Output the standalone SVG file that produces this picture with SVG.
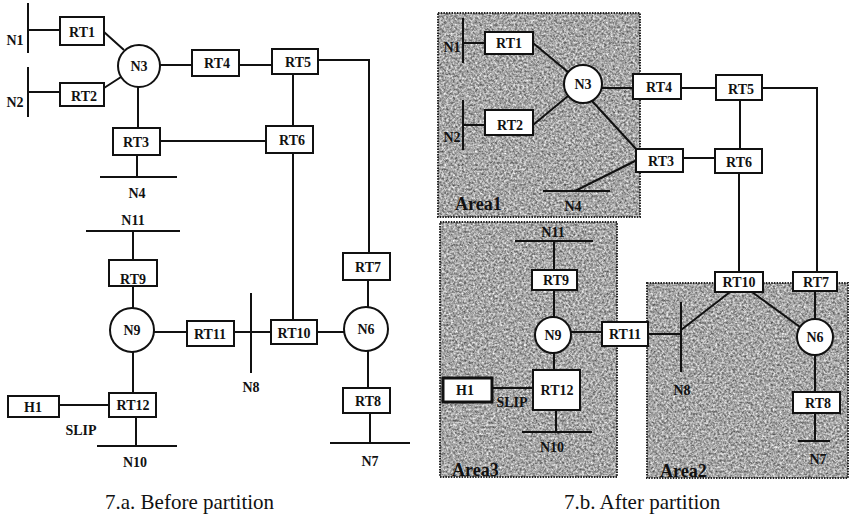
<svg xmlns="http://www.w3.org/2000/svg" width="854" height="518" viewBox="0 0 854 518">
<defs>
<filter id="tex" x="0" y="0" width="1" height="1" color-interpolation-filters="sRGB">
<feTurbulence type="fractalNoise" baseFrequency="0.45" numOctaves="4" seed="7"/>
<feColorMatrix type="matrix" values="0.9 0 0 0 0.2  0.9 0 0 0 0.2  0.9 0 0 0 0.2  0 0 0 0 1"/>
</filter>
<style>
.box{fill:#fff;stroke:#111;stroke-width:2}
.ln{stroke:#111;stroke-width:2;fill:none}
.lbl{font-family:"Liberation Serif","Times New Roman",serif;font-weight:bold;font-size:14px;text-anchor:middle;fill:#111}
.alb{font-family:"Liberation Serif","Times New Roman",serif;font-weight:bold;font-size:18px;fill:#111}
.cap{font-family:"Liberation Serif","Times New Roman",serif;font-size:21px;fill:#111}
.abd{fill:none;stroke:#222;stroke-width:2;stroke-dasharray:1.5 1.2}
</style>
</defs>
<rect width="854" height="518" fill="#fff"/>

<!-- Areas (7.b) -->
<g id="b-Area1"><rect x="438" y="13" width="202" height="204" fill="#000" filter="url(#tex)"/><rect class="abd" x="438" y="13" width="202" height="204"/><text class="alb" x="455" y="210">Area1</text></g>
<g id="b-Area3"><rect x="440" y="222" width="177" height="255" fill="#000" filter="url(#tex)"/><rect class="abd" x="440" y="222" width="177" height="255"/><text class="alb" x="452" y="476">Area3</text></g>
<g id="b-Area2"><rect x="647" y="283" width="201" height="195" fill="#000" filter="url(#tex)"/><rect class="abd" x="647" y="283" width="201" height="195"/><text class="alb" x="660" y="477">Area2</text></g>

<!-- Connectors -->
<g id="connectors" class="ln">
<!-- 7.a -->
<path d="M28,3V53M28,30H60M28,67V117M28,92H60"/>
<path d="M104,32L124,50M104,88L121,77M160,65H192"/>
<path d="M239,65H272M318,60H369V253M293,74V126M160,141H266M138,87V128M137,155V177M100,177H177"/>
<path d="M293,153V320M368,280V307M317,332H344M234,332H271M251,293V373M368,351V388M370,413V443M330,443H410"/>
<path d="M86,231H180M133,231V260M133,286V308M154,332H187M133,352V393M59,405H109M136,417V446M97,446H177"/>
<!-- 7.b -->
<path d="M463,18V63M463,43H485M463,100V150M463,125H485"/>
<path d="M533,43L568,72M533,125L568,96M602,88H633M681,88H716M762,88H817V272M740,100V149M683,158H715"/>
<path d="M592,101L637,150M637,160L575,191M543,191H610"/>
<path d="M739,173V272M730,292L681,330M752,292L800,327M815,291V319M648,334H681M681,302V372M815,355V392M815,413V441M798,441H830"/>
<path d="M515,241H593M554,241V270M554,290V317M571,332H602M554,353V370M492,388H533M556,410V432M522,432H592"/>
</g>

<!-- 7.a nodes -->
<g id="a-N1"><text class="lbl" x="15" y="45">N1</text></g>
<g id="a-N2"><text class="lbl" x="15" y="107">N2</text></g>
<g id="a-RT1"><rect class="box" x="60" y="17" width="44" height="28"/><text class="lbl" x="82" y="37">RT1</text></g>
<g id="a-RT2"><rect class="box" x="60" y="83" width="44" height="23"/><text class="lbl" x="84" y="101">RT2</text></g>
<g id="a-N3"><circle class="box" cx="139" cy="66" r="21"/><text class="lbl" x="139" y="71">N3</text></g>
<g id="a-RT3"><rect class="box" x="113" y="128" width="47" height="27"/><text class="lbl" x="136" y="147">RT3</text></g>
<g id="a-N4"><text class="lbl" x="137" y="198">N4</text></g>
<g id="a-RT4"><rect class="box" x="192" y="50" width="47" height="26"/><text class="lbl" x="217" y="68">RT4</text></g>
<g id="a-RT5"><rect class="box" x="272" y="49" width="46" height="25"/><text class="lbl" x="298" y="67">RT5</text></g>
<g id="a-RT6"><rect class="box" x="266" y="126" width="47" height="27"/><text class="lbl" x="292" y="145">RT6</text></g>
<g id="a-N11"><text class="lbl" x="133" y="225">N11</text></g>
<g id="a-RT9"><rect class="box" x="109" y="260" width="48" height="26"/><text class="lbl" x="133" y="284">RT9</text></g>
<g id="a-N9"><circle class="box" cx="132" cy="330" r="22"/><text class="lbl" x="132" y="335">N9</text></g>
<g id="a-RT11"><rect class="box" x="187" y="321" width="47" height="25"/><text class="lbl" x="210" y="339">RT11</text></g>
<g id="a-N8"><text class="lbl" x="251" y="392">N8</text></g>
<g id="a-RT10"><rect class="box" x="271" y="320" width="46" height="24"/><text class="lbl" x="294" y="338">RT10</text></g>
<g id="a-RT7"><rect class="box" x="343" y="253" width="47" height="27"/><text class="lbl" x="368" y="272">RT7</text></g>
<g id="a-N6"><circle class="box" cx="366" cy="329" r="22"/><text class="lbl" x="366" y="334">N6</text></g>
<g id="a-RT8"><rect class="box" x="343" y="388" width="47" height="25"/><text class="lbl" x="368" y="406">RT8</text></g>
<g id="a-N7"><text class="lbl" x="370" y="466">N7</text></g>
<g id="a-H1"><rect class="box" x="8" y="396" width="51" height="21"/><text class="lbl" x="33" y="412">H1</text></g>
<g id="a-RT12"><rect class="box" x="109" y="393" width="47" height="24"/><text class="lbl" x="133" y="410">RT12</text></g>
<g id="a-SLIP"><text class="lbl" x="81" y="435">SLIP</text></g>
<g id="a-N10"><text class="lbl" x="135" y="467">N10</text></g>

<!-- 7.b nodes -->
<g id="b-N1"><text class="lbl" x="452" y="52">N1</text></g>
<g id="b-N2"><text class="lbl" x="452" y="142">N2</text></g>
<g id="b-RT1"><rect class="box" x="485" y="32" width="48" height="22"/><text class="lbl" x="509" y="48">RT1</text></g>
<g id="b-RT2"><rect class="box" x="485" y="110" width="48" height="25"/><text class="lbl" x="510" y="130">RT2</text></g>
<g id="b-N3"><circle class="box" cx="583" cy="84" r="19"/><text class="lbl" x="583" y="89">N3</text></g>
<g id="b-RT4"><rect class="box" x="633" y="74" width="48" height="25"/><text class="lbl" x="659" y="92">RT4</text></g>
<g id="b-RT5"><rect class="box" x="716" y="75" width="46" height="25"/><text class="lbl" x="741" y="94">RT5</text></g>
<g id="b-RT3"><rect class="box" x="636" y="149" width="47" height="23"/><text class="lbl" x="661" y="166">RT3</text></g>
<g id="b-RT6"><rect class="box" x="715" y="149" width="47" height="24"/><text class="lbl" x="739" y="167">RT6</text></g>
<g id="b-N4"><text class="lbl" x="573" y="211">N4</text></g>
<g id="b-N11"><text class="lbl" x="553" y="237">N11</text></g>
<g id="b-RT9"><rect class="box" x="532" y="270" width="45" height="20"/><text class="lbl" x="556" y="285">RT9</text></g>
<g id="b-N9"><circle class="box" cx="553" cy="335" r="18"/><text class="lbl" x="553" y="340">N9</text></g>
<g id="b-RT11"><rect class="box" x="602" y="322" width="46" height="24"/><text class="lbl" x="625" y="339">RT11</text></g>
<g id="b-H1"><rect class="box" x="443" y="378" width="49" height="24" style="stroke-width:3"/><text class="lbl" x="465" y="395">H1</text></g>
<g id="b-SLIP"><text class="lbl" x="512" y="407">SLIP</text></g>
<g id="b-RT12"><rect class="box" x="533" y="370" width="47" height="40"/><text class="lbl" x="557" y="395">RT12</text></g>
<g id="b-N10"><text class="lbl" x="552" y="452">N10</text></g>
<g id="b-RT10"><rect class="box" x="715" y="272" width="48" height="20"/><text class="lbl" x="739" y="287">RT10</text></g>
<g id="b-RT7"><rect class="box" x="793" y="272" width="44" height="19"/><text class="lbl" x="816" y="287">RT7</text></g>
<g id="b-N8"><text class="lbl" x="682" y="395">N8</text></g>
<g id="b-N6"><circle class="box" cx="815" cy="337" r="18"/><text class="lbl" x="815" y="342">N6</text></g>
<g id="b-RT8"><rect class="box" x="793" y="392" width="47" height="21"/><text class="lbl" x="818" y="408">RT8</text></g>
<g id="b-N7"><text class="lbl" x="818" y="464">N7</text></g>

<!-- Captions -->
<text class="cap" x="105" y="509">7.a. Before partition</text>
<text class="cap" x="564" y="509">7.b. After partition</text>
</svg>
